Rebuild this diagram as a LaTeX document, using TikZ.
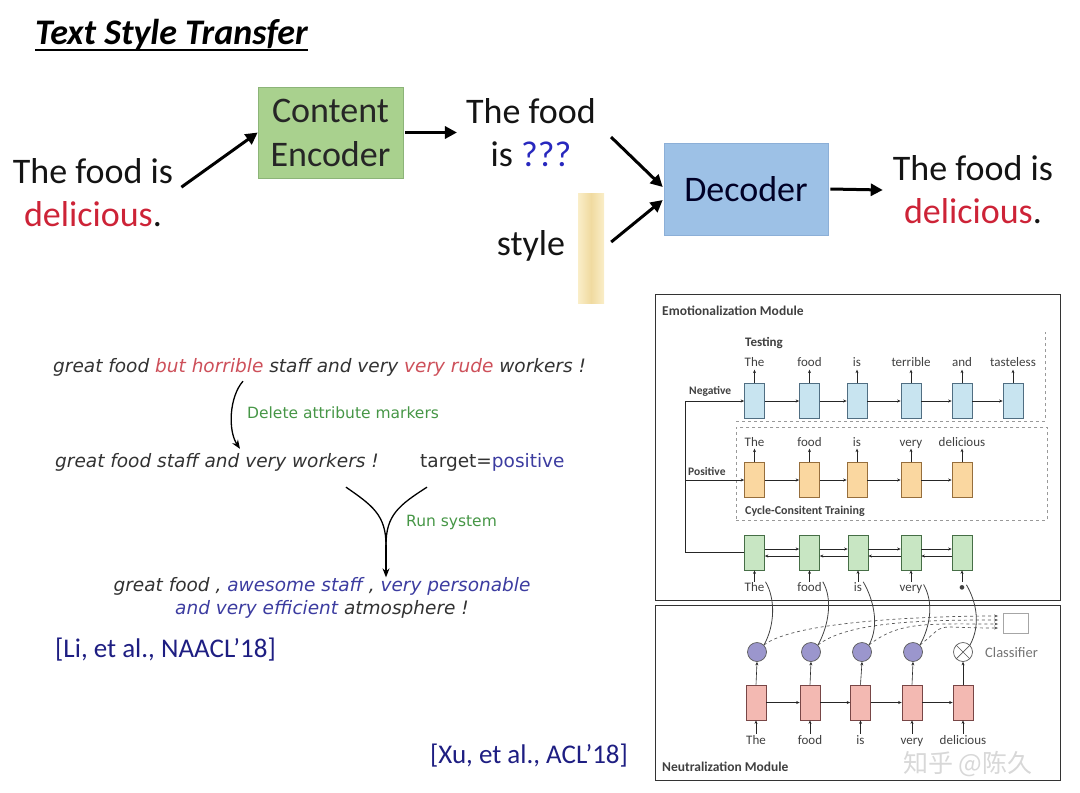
\documentclass[tikz,border=0pt]{standalone}
\usepackage{fontspec}
\setmainfont{Carlito}
\newfontfamily\dejavu{DejaVu Sans}
\newfontfamily\cjkfont{Noto Sans CJK SC}
\usetikzlibrary{arrows.meta,calc}
\definecolor{delred}{RGB}{205,35,55}
\definecolor{qblue}{RGB}{40,40,190}
\definecolor{encgreen}{RGB}{169,209,142}
\definecolor{encborder}{RGB}{140,180,120}
\definecolor{decblue}{RGB}{157,193,230}
\definecolor{decborder}{RGB}{140,175,215}
\definecolor{vecA}{RGB}{250,238,200}
\definecolor{vecB}{RGB}{240,218,160}
\definecolor{extext}{RGB}{50,50,50}
\definecolor{exred}{RGB}{205,80,90}
\definecolor{exblue}{RGB}{60,60,160}
\definecolor{exgreen}{RGB}{70,150,70}
\definecolor{refnavy}{RGB}{30,30,130}
\definecolor{cbfill}{RGB}{200,228,240}
\definecolor{cbdraw}{RGB}{80,110,130}
\definecolor{cofill}{RGB}{250,215,160}
\definecolor{codraw}{RGB}{150,110,60}
\definecolor{cgfill}{RGB}{200,230,195}
\definecolor{cgdraw}{RGB}{70,110,70}
\definecolor{cpfill}{RGB}{243,185,178}
\definecolor{cpdraw}{RGB}{120,70,70}
\definecolor{purp}{RGB}{155,150,205}
\begin{document}
\begin{tikzpicture}[x=1pt,y=-1pt,
  big/.style={font=\fontsize{36}{43}\selectfont, align=center, inner sep=0pt, text=black!92},
  bigarr/.style={line width=3pt, -{Triangle[length=12pt,width=12pt]}},
  ex/.style={font=\dejavu\itshape\fontsize{18.5}{23}\selectfont, inner sep=0pt, text=extext},
  exu/.style={font=\dejavu\fontsize{18.5}{23}\selectfont, inner sep=0pt, text=extext},
  glbl/.style={font=\dejavu\fontsize{15.5}{18}\selectfont, inner sep=0pt, text=exgreen},
  curvarr/.style={line width=1.3pt, -{Stealth[length=9pt,width=7pt]}},
  curvline/.style={line width=1.3pt},
  refst/.style={font=\fontsize{27}{32}\selectfont, inner sep=0pt, text=refnavy},
  panel/.style={draw=black!80, line width=0.9pt, inner sep=0pt, anchor=north west},
  mtitle/.style={font=\bfseries\fontsize{13.5}{16}\selectfont, text=black!75, inner sep=0pt, anchor=west},
  slbl/.style={font=\bfseries\fontsize{11.5}{14}\selectfont, text=black!75, inner sep=0pt},
  wd/.style={font=\fontsize{13}{15}\selectfont, text=black!75, inner sep=0pt, anchor=base},
  cellbase/.style={minimum width=20pt, minimum height=35pt, inner sep=0pt, line width=0.7pt},
  cellb/.style={cellbase, draw=cbdraw, fill=cbfill},
  cello/.style={cellbase, draw=codraw, fill=cofill},
  cellg/.style={cellbase, draw=cgdraw, fill=cgfill},
  cellp/.style={cellbase, draw=cpdraw, fill=cpfill},
  sarr/.style={line width=0.6pt, draw=black!85, -{Stealth[length=3.5pt,width=3pt]}},
  dbox/.style={draw=black!40, dashed, line width=0.6pt},
  circ/.style={circle, minimum size=19pt, inner sep=0pt, draw=black!65, line width=0.7pt},
  softcurve/.style={line width=0.8pt, draw=black!75},
  dasharr/.style={line width=0.7pt, draw=black!65, dashed, -{Stealth[length=4pt,width=3pt]}}
]
\useasboundingbox (0,0) rectangle (1080,793);

% ---------- title ----------
\node[anchor=base west, inner sep=0pt, font=\bfseries\itshape\fontsize{36}{42}\selectfont] (title) at (35,44) {Text Style Transfer};
\draw[line width=1.4pt] (title.south west) -- (title.south east);

% ---------- top pipeline ----------
\node[big] (src) at (93,193) {The food is\\\textcolor{delred}{delicious}.};
\node[draw=encborder, fill=encgreen, line width=0.6pt, minimum width=145pt, minimum height=91pt, inner sep=0pt,
      align=center, font=\fontsize{36}{44}\selectfont, text=black!85] (enc) at (330.5,132.5) {Content\\Encoder};
\node[big] (mid) at (531,133) {The food\\is \textcolor{qblue}{???}};
\node[big] (sty) at (531,246) {style};
\node[minimum width=26pt, minimum height=110pt, inner sep=0pt, left color=vecA, right color=vecA, middle color=vecB] (vec) at (591,248) {};
\node[draw=decborder, fill=decblue, line width=0.6pt, minimum width=164pt, minimum height=92pt, inner sep=0pt,
      font=\fontsize{36}{43}\selectfont, text=black!85!blue] (dec) at (746,189) {Decoder};
\node[big] (out) at (973,190) {The food is\\\textcolor{delred}{delicious}.};

\draw[bigarr, shorten <=10pt] (src.east) -- (enc.west);
\draw[bigarr, shorten <=2pt, shorten >=9pt] (enc.east) -- (mid.west |- enc.east);
\draw[bigarr] ([shift={(15,4)}]mid.east) -- ([shift={(-1,-2)}]dec.west);
\draw[bigarr] ([shift={(7,-6)}]vec.east) -- ([shift={(-1,11)}]dec.west);
\draw[bigarr] ([xshift=2pt]dec.east) -- ([xshift=-10pt]out.west);

% ---------- lower left example ----------
\node[ex, anchor=west] (l1) at (53,367) {great food \textcolor{exred}{but horrible} staff and very \textcolor{exred}{very rude} workers !};
\node[glbl, anchor=west] (dl) at (247,413) {Delete attribute markers};
\node[ex, anchor=west] (l2) at (55,462) {great food staff and very workers !};
\node[exu, anchor=west] (tgt) at (420,462) {target=\textcolor{exblue}{positive}};
\draw[curvarr] ([shift={(190,5)}]l1.south west) .. controls +(-14,16) and +(-12,-18) .. ([shift={(185,-4)}]l2.north west);

\node[glbl, anchor=west] (rs) at (406,522) {Run system};
\node[ex, align=center] (o1) at (322,598) {great food , \textcolor{exblue}{awesome staff} , \textcolor{exblue}{very personable}\\\textcolor{exblue}{and very efficient} atmosphere !};
\coordinate (merge) at (386,545);
\draw[curvline] ([shift={(-33,16)}]l2.south east) .. controls +(26,18) and +(0,-30) .. (merge);
\draw[curvline] ([shift={(7,16)}]tgt.south west) .. controls +(-28,18) and +(0,-30) .. (merge);
\draw[curvarr] (merge) -- (merge |- o1.north);

\node[refst, anchor=west] (li) at (55,650) {[Li, et al., NAACL’18]};
\node[refst, anchor=west] (xu) at (430,756) {[Xu, et al., ACL’18]};

% ---------- right panel ----------
\node[panel, minimum width=405pt, minimum height=306pt] (emo) at (655,294) {};
\node[panel, minimum width=405pt, minimum height=175pt] (neu) at (655,605) {};
\node[mtitle] (emot) at (662,311) {Emotionalization Module};
\node[mtitle] (neut) at (662,767) {Neutralization Module};

% watermark
\node[inner sep=0pt, font=\cjkfont\fontsize{25}{27}\selectfont, text=black!22, opacity=0.7] (wm) at (968,764) {知乎 @陈久};

% dashed regions
\draw[dbox] (736,421) -- (1045,421) -- (1045,332);
\node[dbox, minimum width=311pt, minimum height=93pt, inner sep=0pt, anchor=north west] (cyc) at (736,427) {};
\node[anchor=west, inner sep=0pt, font=\bfseries\fontsize{13}{15}\selectfont, text=black!75] (testing) at (745,343) {Testing};
\node[anchor=west, inner sep=0pt, font=\bfseries\fontsize{12}{14}\selectfont, text=black!75] (cct) at (745,511) {Cycle-Consitent Training};

% blue row (testing)
\foreach \i/\x/\w in {1/754.5/The,2/809.5/food,3/857/is,4/911/terrible,5/962/and,6/1013/tasteless}{
  \node[cellb] (b\i) at (\x,401) {};
  \node[wd] (bw\i) at (\x,366) {\w};
  \draw[sarr] (b\i.north) -- ++(0,-13.5);
}
\foreach \i [count=\j from 2] in {1,...,5}{ \draw[sarr] (b\i.east) -- (b\j.west); }

% orange row
\foreach \i/\x/\w in {1/754.5/The,2/809.5/food,3/857/is,4/911/very,5/962/delicious}{
  \node[cello] (or\i) at (\x,480) {};
  \node[wd] (ow\i) at (\x,446) {\w};
  \draw[sarr] (or\i.north) -- ++(0,-13.5);
}
\foreach \i [count=\j from 2] in {1,...,4}{ \draw[sarr] (or\i.east) -- (or\j.west); }

% green row (encoder)
\foreach \i/\x/\w in {1/754.5/The,2/809.5/food,3/858/is,4/911/very,5/962/•}{
  \node[cellg] (g\i) at (\x,552.5) {};
  \node[wd] (gw\i) at (\x,591) {\w};
  \draw[sarr] ([yshift=-11.5pt]g\i.south) -- (g\i.south);
}
\foreach \i [count=\j from 2] in {1,...,4}{
  \draw[sarr] ([yshift=3.5pt]g\i.east) -- ([yshift=3.5pt]g\j.west);
  \draw[sarr] ([yshift=-3.5pt]g\j.west) -- ([yshift=-3.5pt]g\i.east);
}

% left feed lines
\coordinate (lft) at (685,552.5);
\draw[sarr] (g1.west) -- (lft) -- (lft |- b1.west) -- (b1.west);
\draw[sarr] (lft |- or1.west) -- (or1.west);
\node[slbl, anchor=south west] (neg) at (689,397) {Negative};
\node[slbl, anchor=south west] (pos) at (688,476) {Positive};

% neutralization module: pink row, circles
\foreach \i/\x/\w in {1/756/The,2/810/food,3/860.5/is,4/912/very,5/963/delicious}{
  \node[cellp] (p\i) at (\x,702.5) {};
  \node[wd] (pw\i) at (\x,744) {\w};
  \draw[sarr] ([yshift=-13.5pt]p\i.south) -- (p\i.south);
}
\foreach \i [count=\j from 2] in {1,...,4}{ \draw[sarr] (p\i.east) -- (p\j.west); }
\foreach \i/\cx in {1/757,2/811,3/862,4/913}{
  \node[circ, fill=purp] (c\i) at (\cx,652) {};
}
\node[circ, fill=white] (c5) at (963,652) {};
\draw[line width=0.7pt, draw=black!65] (c5.north east) -- (c5.south west) (c5.north west) -- (c5.south east);
\foreach \i in {1,...,5}{ \draw[sarr] (p\i.north) -- (c\i.south); }

% classifier
\node[draw=black!35, line width=0.7pt, minimum width=25pt, minimum height=20pt, inner sep=0pt] (cls) at (1016,623) {};
\node[anchor=west, inner sep=0pt, font=\fontsize{14.5}{16}\selectfont, text=black!55] (clsl) at (985,653) {Classifier};
\foreach \i/\yy in {1/616,2/620,3/624,4/628}{
  \draw[dasharr] (c\i.north east) .. controls +(30,-24) and +(-70,0) .. ([shift={(-5,\yy-623)}]cls.west);
}

% curves from circles to encoder inputs
\foreach \i in {1,...,5}{
  \draw[softcurve] (c\i.north east) .. controls +(11,-20) and +(10,17) .. ([shift={(1,0)}]gw\i.north east);
}
\end{tikzpicture}
\end{document}
